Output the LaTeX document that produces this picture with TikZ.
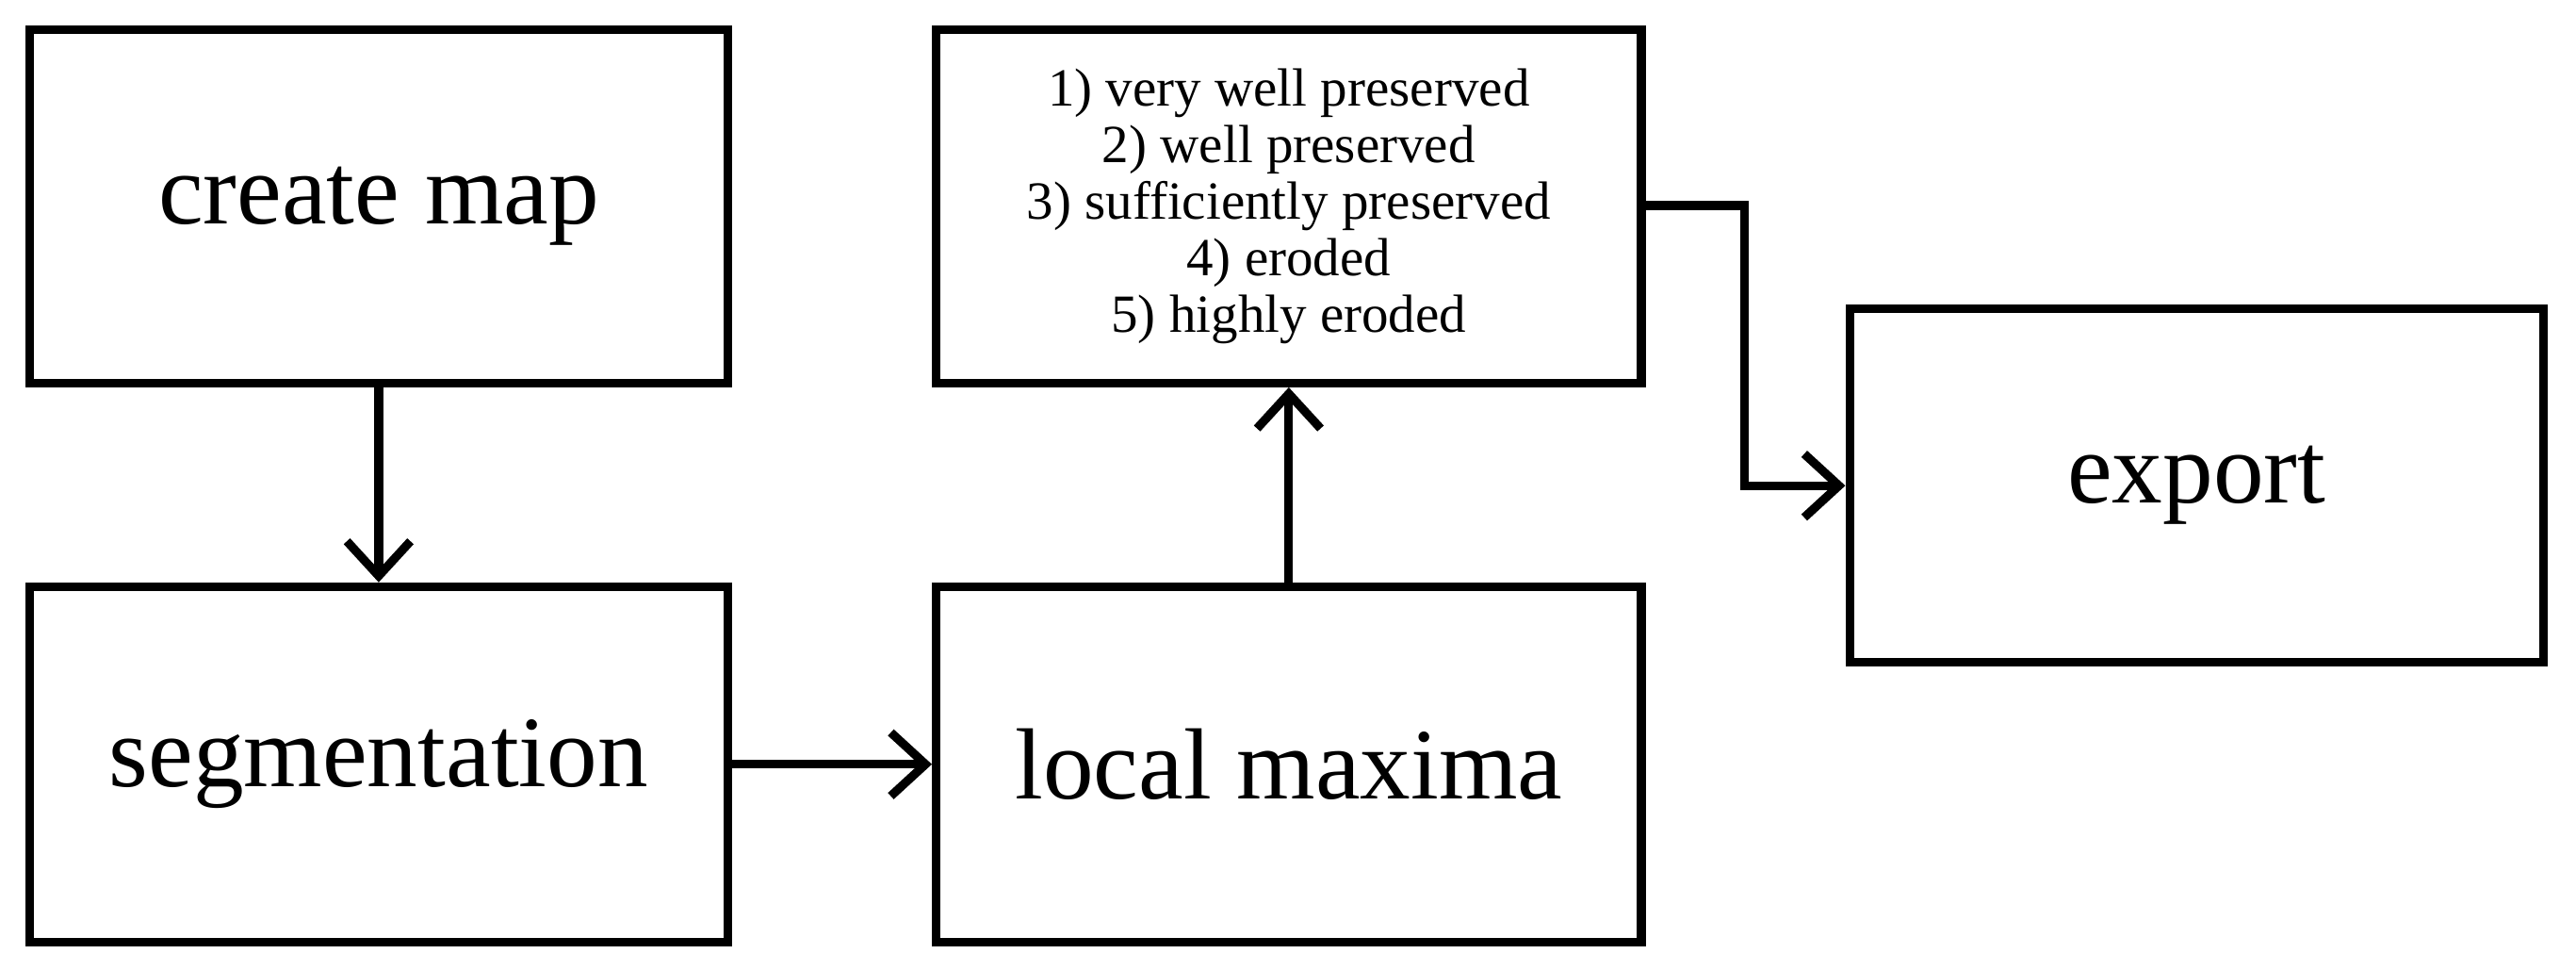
\documentclass[tikz,border=0pt]{standalone}
\usepackage{fontspec}
\setmainfont{Liberation Serif}
\usetikzlibrary{arrows.meta}
\begin{document}
\begin{tikzpicture}[x=0.01cm,y=-0.01cm,
 box/.style={draw,line width=1.5pt,inner sep=0pt,align=center},
 big/.style={font=\fontsize{17.5}{21}\selectfont},
 arr/.style={line width=1.5pt,-{Straight Barb[length=6pt,width=11pt,line width=1.5pt]}}]
\useasboundingbox (0,0) rectangle (1568,589.6);
\node[box,big,minimum width=4.25cm,minimum height=2.15cm] (cm) at (230.5,125.5) {create map};
\node[box,big,minimum width=4.25cm,minimum height=2.16cm] (seg) at (230.5,465) {segmentation};
\node[box,big,minimum width=4.29cm,minimum height=2.16cm] (lm) at (784.5,465) {local maxima};
\node[box,minimum width=4.29cm,minimum height=2.15cm,font=\fontsize{9.3}{9.8}\selectfont] (lst) at (784.5,125.5) {1) very well preserved\\2) well preserved\\3) sufficiently preserved\\4) eroded\\5) highly eroded};
\node[box,big,minimum width=4.22cm,minimum height=2.15cm] (ex) at (1337,295.5) {export};
\draw[arr] (cm) -- (seg);
\draw[arr] (seg) -- (lm);
\draw[arr] (lm) -- (lst);
\coordinate (a) at (1062,125);
\draw[arr] (lst.east|-a) -- (a) |- (ex.west);
\end{tikzpicture}
\end{document}
